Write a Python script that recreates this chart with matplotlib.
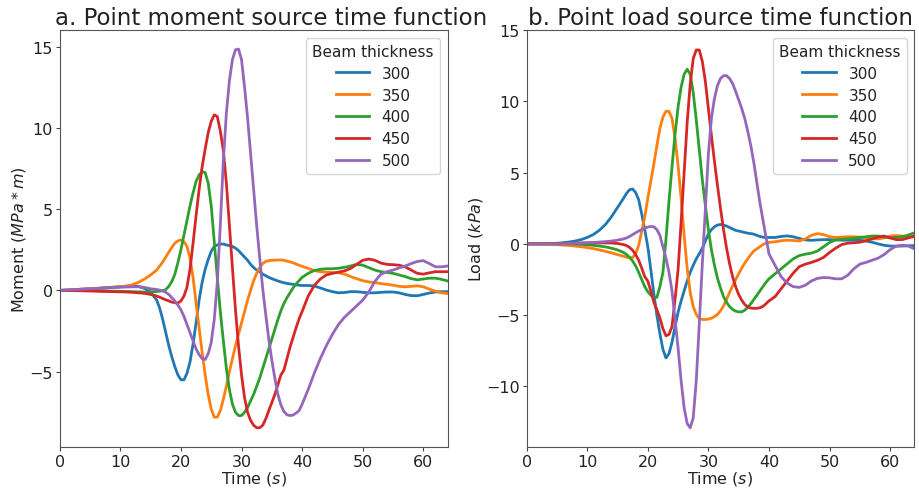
import numpy as np
import matplotlib.pyplot as plt

# time axis (s): 1 s steps, 0.5 s steps through the busy part of the signal
t = list(range(0, 17)) + [16.5 + 0.5 * i for i in range(48)] + list(range(41, 65))

# a. point moment source (MPa*m)
m300 = [0, 0.02, 0.04, 0.06, 0.08, 0.1, 0.12, 0.15, 0.18, 0.2, 0.23, 0.26, 0.29, 0.25, 0.12, -0.1, -0.6,
        -1.1, -1.8, -2.6, -3.4, -4.1, -4.7, -5.2, -5.5, -5.5, -5.1, -4.4, -3.3, -2.0, -0.6, 0.5, 1.3,
        1.9, 2.4, 2.7, 2.8, 2.85, 2.85, 2.8, 2.75, 2.7, 2.6, 2.45, 2.25, 2.05, 1.85, 1.6, 1.4,
        1.25, 1.15, 1.0, 0.9, 0.8, 0.72, 0.65, 0.58, 0.52, 0.47, 0.43, 0.4, 0.37, 0.34, 0.32, 0.3,
        0.3, 0.27, 0.15, 0.02, -0.08, -0.15, -0.13, -0.08, -0.08, -0.12, -0.15, -0.15, -0.12, -0.1,
        -0.1, -0.15, -0.25, -0.32, -0.33, -0.25, -0.16, -0.1, -0.08, -0.08]
m350 = [0, 0.02, 0.04, 0.06, 0.08, 0.1, 0.12, 0.14, 0.17, 0.2, 0.23, 0.26, 0.35, 0.5, 0.7, 0.95, 1.25,
        1.5, 1.75, 2.05, 2.35, 2.65, 2.9, 3.05, 3.1, 3.0, 2.7, 2.0, 0.8, -0.8, -2.3, -3.8, -5.2,
        -6.4, -7.3, -7.8, -7.8, -7.4, -6.7, -5.9, -5.0, -4.2, -3.4, -2.7, -2.0, -1.3, -0.6, 0.0, 0.6,
        1.05, 1.4, 1.65, 1.78, 1.83, 1.85, 1.86, 1.87, 1.87, 1.85, 1.8, 1.75, 1.7, 1.62, 1.55, 1.48,
        1.35, 1.22, 1.15, 1.12, 1.1, 1.08, 1.0, 0.85, 0.72, 0.6, 0.52, 0.48, 0.42, 0.37,
        0.32, 0.25, 0.22, 0.25, 0.28, 0.22, 0.08, -0.05, -0.15, -0.2]
m400 = [0, 0, 0, 0, 0, -0.01, -0.02, -0.03, -0.04, -0.05, -0.06, -0.07, -0.08, -0.09, -0.1, -0.09, -0.07,
        -0.05, -0.02, 0.05, 0.25, 0.55, 1.0, 1.7, 2.5, 3.4, 4.3, 5.2, 6.0, 6.7, 7.1, 7.3, 7.25,
        6.6, 5.2, 3.0, 0.8, -1.3, -3.1, -4.8, -6.1, -7.0, -7.5, -7.7, -7.7, -7.5, -7.2, -6.8, -6.4,
        -5.9, -5.4, -4.8, -4.2, -3.6, -3.0, -2.4, -1.8, -1.25, -0.8, -0.45, -0.15, 0.15, 0.4, 0.6, 0.8,
        1.05, 1.22, 1.3, 1.33, 1.33, 1.36, 1.42, 1.5, 1.6, 1.55, 1.4, 1.25, 1.15, 1.1,
        1.05, 0.95, 0.85, 0.72, 0.65, 0.7, 0.75, 0.75, 0.68, 0.58]
m450 = [0, 0, -0.01, -0.02, -0.03, -0.04, -0.05, -0.06, -0.07, -0.08, -0.09, -0.1, -0.12, -0.15, -0.18, -0.25, -0.35,
        -0.42, -0.5, -0.58, -0.65, -0.72, -0.76, -0.78, -0.65, -0.35, 0.2, 1.3, 2.9, 4.6, 6.2, 7.6, 8.7,
        9.7, 10.4, 10.8, 10.7, 9.8, 8.6, 6.6, 4.0, 1.4, -1.2, -3.4, -5.2, -6.6, -7.5, -8.0, -8.3,
        -8.45, -8.45, -8.3, -7.9, -7.4, -6.9, -6.4, -5.8, -5.2, -4.9, -4.2, -3.5, -2.9, -2.3, -1.75, -1.3,
        -0.35, 0.3, 0.7, 0.95, 1.05, 1.12, 1.2, 1.35, 1.6, 1.85, 1.93, 1.85, 1.68, 1.6,
        1.58, 1.55, 1.45, 1.25, 1.05, 1.0, 1.08, 1.15, 1.15, 1.15]
m500 = [0, 0.02, 0.04, 0.06, 0.08, 0.1, 0.12, 0.14, 0.16, 0.18, 0.19, 0.21, 0.22, 0.22, 0.18, 0.1, 0.05,
        0.02, -0.03, -0.12, -0.25, -0.45, -0.65, -0.9, -1.2, -1.6, -2.1, -2.6, -3.1, -3.6, -3.95, -4.2, -4.25,
        -3.9, -3.2, -1.8, 0.5, 4.0, 8.0, 10.9, 12.9, 14.2, 14.8, 14.85, 14.2, 12.5, 10.6, 8.4, 6.2,
        4.0, 2.0, 0.1, -1.5, -3.0, -4.3, -5.4, -6.4, -7.05, -7.45, -7.65, -7.7, -7.67, -7.55, -7.4, -7.0,
        -6.1, -5.1, -4.2, -3.4, -2.7, -2.1, -1.65, -1.3, -0.95, -0.6, -0.1, 0.55, 1.0, 1.15,
        1.25, 1.38, 1.5, 1.65, 1.78, 1.83, 1.65, 1.45, 1.45, 1.5]

# b. point load source (kPa)
l300 = [0, 0, 0, 0.01, 0.02, 0.04, 0.08, 0.13, 0.2, 0.3, 0.45, 0.65, 0.95, 1.35, 1.9, 2.55, 3.2,
        3.55, 3.8, 3.85, 3.6, 3.1, 2.1, 1.0, -0.2, -1.8, -3.5, -5.0, -6.3, -7.4, -8.0, -7.7, -6.9,
        -5.8, -4.8, -4.0, -3.3, -2.6, -2.0, -1.5, -1.05, -0.7, -0.3, 0.2, 0.7, 1.0, 1.2, 1.32, 1.36,
        1.32, 1.25, 1.15, 1.05, 0.95, 0.9, 0.85, 0.8, 0.75, 0.72, 0.68, 0.6, 0.52, 0.47, 0.45, 0.45,
        0.45, 0.52, 0.56, 0.5, 0.38, 0.28, 0.25, 0.28, 0.3, 0.3, 0.28, 0.26, 0.26, 0.27,
        0.26, 0.2, 0.12, 0.0, -0.1, -0.15, -0.16, -0.15, -0.13, -0.12]
l350 = [0, 0, -0.01, -0.02, -0.04, -0.06, -0.08, -0.11, -0.15, -0.2, -0.26, -0.33, -0.42, -0.52, -0.63, -0.75, -0.87,
        -0.93, -0.97, -0.95, -0.7, -0.1, 0.9, 1.9, 3.2, 4.4, 5.6, 6.9, 8.1, 8.9, 9.3, 9.3, 8.8,
        7.4, 5.5, 3.2, 0.6, -1.7, -3.4, -4.4, -4.95, -5.25, -5.3, -5.3, -5.28, -5.22, -5.1, -4.95, -4.7,
        -4.35, -3.9, -3.4, -2.95, -2.5, -2.1, -1.7, -1.35, -1.05, -0.75, -0.5, -0.35, -0.2, -0.05, 0.05, 0.1,
        0.15, 0.22, 0.26, 0.24, 0.2, 0.35, 0.6, 0.72, 0.65, 0.5, 0.45, 0.48, 0.5, 0.5,
        0.48, 0.42, 0.36, 0.35, 0.42, 0.55, 0.58, 0.55, 0.5, 0.48]
l400 = [0, 0, 0, 0, 0, 0, 0, 0, -0.01, -0.03, -0.06, -0.1, -0.15, -0.21, -0.3, -0.42, -0.6,
        -0.75, -0.95, -1.2, -1.55, -2.0, -2.5, -3.0, -3.35, -3.6, -3.75, -3.75, -3.0, -2.0, 0.3, 3.0, 5.4,
        7.7, 9.6, 11.0, 11.9, 12.25, 11.9, 10.6, 8.7, 6.6, 4.5, 2.7, 1.0, -0.4, -1.5, -2.4, -3.1,
        -3.7, -4.1, -4.4, -4.6, -4.72, -4.77, -4.77, -4.65, -4.45, -4.2, -3.9, -3.6, -3.3, -3.0, -2.7, -2.45,
        -2.1, -1.75, -1.4, -1.05, -0.82, -0.72, -0.65, -0.5, -0.2, 0.1, 0.28, 0.32, 0.35, 0.4,
        0.45, 0.5, 0.55, 0.55, 0.48, 0.42, 0.45, 0.5, 0.62, 0.78]
l450 = [0, 0, 0, 0, 0.01, 0.02, 0.03, 0.04, 0.05, 0.06, 0.07, 0.07, 0.07, 0.07, 0.06, 0.03, -0.05,
        -0.12, -0.25, -0.45, -0.75, -1.15, -1.7, -2.3, -2.6, -3.3, -4.1, -4.6, -5.2, -5.95, -6.45, -6.35, -5.8,
        -3.9, -1.8, 1.5, 5.0, 8.5, 11.2, 13.0, 13.6, 13.6, 12.8, 11.4, 9.5, 7.6, 5.8, 4.1, 2.5,
        1.0, -0.3, -1.4, -2.3, -3.0, -3.55, -3.95, -4.25, -4.42, -4.5, -4.52, -4.52, -4.48, -4.38, -4.2, -4.0,
        -3.7, -3.15, -2.6, -2.05, -1.6, -1.42, -1.3, -1.15, -0.95, -0.6, -0.3, -0.05, 0.05, 0.08,
        0.12, 0.22, 0.35, 0.48, 0.55, 0.42, 0.3, 0.3, 0.42, 0.55]
l500 = [0, 0, 0, 0, 0, 0, 0.01, 0.02, 0.04, 0.06, 0.08, 0.1, 0.13, 0.16, 0.2, 0.26, 0.35,
        0.42, 0.52, 0.65, 0.78, 0.9, 1.0, 1.1, 1.18, 1.22, 1.2, 1.0, 0.6, -0.2, -1.0, -2.0, -3.3,
        -5.3, -7.3, -9.6, -11.5, -12.6, -12.9, -12.2, -9.6, -5.6, -1.4, 2.4, 6.3, 8.8, 10.2, 11.1, 11.6,
        11.8, 11.8, 11.6, 11.25, 10.7, 10.1, 9.5, 8.8, 7.9, 6.9, 5.7, 4.3, 2.9, 1.7, 0.5, -0.7,
        -1.5, -2.3, -2.75, -3.0, -3.05, -2.9, -2.6, -2.42, -2.36, -2.38, -2.45, -2.45, -2.2, -1.75,
        -1.42, -1.3, -1.15, -1.0, -0.75, -0.4, -0.15, -0.1, -0.15, -0.35]

thickness = ['300', '350', '400', '450', '500']
colors = ['#1f77b4', '#ff7f0e', '#2ca02c', '#d62728', '#9467bd']

plt.rcParams['font.family'] = ['DejaVu Sans']
plt.rcParams['text.color'] = '#222222'
plt.rcParams['axes.labelcolor'] = '#222222'
plt.rcParams['xtick.color'] = '#444444'
plt.rcParams['ytick.color'] = '#444444'
plt.rcParams['xtick.labelcolor'] = '#222222'
plt.rcParams['ytick.labelcolor'] = '#222222'

fig = plt.figure(figsize=(9.19, 4.89), dpi=100)
ax1 = fig.add_axes([0.065, 0.0845, 0.422, 0.852])
ax2 = fig.add_axes([0.573, 0.0845, 0.422, 0.852])

panels = [
    (ax1, [m300, m350, m400, m450, m500], 'a. Point moment source time function', 'Moment ($MPa*m$)', 0.546),
    (ax2, [l300, l350, l400, l450, l500], 'b. Point load source time function', 'Load ($kPa$)', 0.5),
]

for ax, series, title, ylabel, tx in panels:
    for y, lab, c in zip(series, thickness, colors):
        ax.plot(t, y, color=c, lw=2.0, label=lab)
    ax.set_xlim(0, 64)
    ax.set_title(title, fontsize=16.5, pad=4, x=tx)
    ax.set_xlabel('Time ($s$)', fontsize=11.5, labelpad=0)
    ax.set_ylabel(ylabel, fontsize=11.5, labelpad=1)
    ax.tick_params(labelsize=11.5, length=3, pad=2)
    for s in ax.spines.values():
        s.set_color('#555555')
        s.set_linewidth(0.8)
    ax.legend(title='Beam thickness', loc='upper right', fontsize=11, title_fontsize=11,
              handlelength=2.2, labelspacing=0.45)

ax2.set_yticks([-10, -5, 0, 5, 10, 15])

fig.savefig('out.png', dpi=100)
